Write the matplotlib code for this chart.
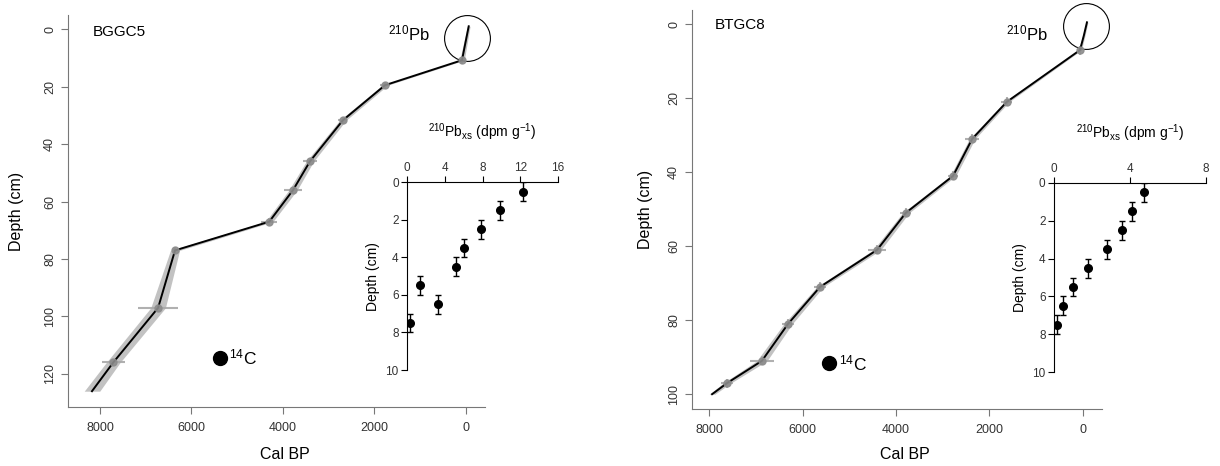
import matplotlib
matplotlib.use("Agg")
import matplotlib.pyplot as plt
import numpy as np

plt.rcParams['font.family'] = ['Liberation Sans', 'DejaVu Sans']
plt.rcParams['mathtext.fontset'] = 'custom'
plt.rcParams['mathtext.rm'] = 'Liberation Sans'
plt.rcParams['mathtext.it'] = 'Liberation Sans:italic'

# --- BGGC5 age-depth model ---
bggc5_depth = [-1, 5, 10.8, 19.5, 31.7, 46, 56, 67, 77, 97, 116, 126]
bggc5_age = [-60, 15, 87, 1770, 2690, 3410, 3780, 4300, 6360, 6730, 7710, 8175]
bggc5_band = [30, 40, 50, 60, 70, 80, 90, 80, 100, 160, 150, 170]
bggc5_xerr = [0, 0, 80, 120, 100, 150, 200, 180, 60, 440, 250, 0]
bggc5_c14 = (5370, 114.4)

# --- BTGC8 age-depth model ---
btgc8_depth = [-0.5, 3, 7, 21, 31, 41, 51, 61, 71, 81, 91, 97, 100]
btgc8_age = [-85, -20, 64, 1630, 2370, 2780, 3790, 4405, 5625, 6310, 6870, 7615, 7935]
btgc8_band = [20, 25, 30, 50, 60, 60, 70, 80, 70, 90, 110, 80, 60]
btgc8_xerr = [0, 0, 40, 120, 150, 100, 120, 200, 120, 120, 250, 130, 0]
btgc8_c14 = (5430, 91.6)

# --- 210Pb excess profiles (insets) ---
pb_depth = [0.5, 1.5, 2.5, 3.5, 4.5, 5.5, 6.5, 7.5]
pb_bggc5 = [12.3, 9.8, 7.85, 6.05, 5.2, 1.4, 3.3, 0.3]
pb_btgc8 = [4.74, 4.1, 3.58, 2.8, 1.8, 1.0, 0.47, 0.16]
pb_depth_err = [0.5] * 8

GREY = '#777777'
TICK_TXT = '#333333'


def draw_core(fig, rect, name, ages, depths, band, xerr, c14, xlim, ylim,
              yticks, name_pos, pb_pos, circle_pos, ylab_xy, xlab_xy):
    ax = fig.add_axes(rect)
    ages = np.array(ages, dtype=float)
    depths = np.array(depths, dtype=float)
    band = np.array(band, dtype=float)

    # uncertainty envelope
    ax.fill_betweenx(depths, ages - band, ages + band, color='#9a9a9a', alpha=0.6, lw=0)
    # dated levels (grey crosses)
    ax.errorbar(ages[2:-1], depths[2:-1], xerr=np.array(xerr)[2:-1], yerr=1.2,
                fmt='o', ms=5, color='#8c8c8c', ecolor='#a8a8a8', elinewidth=1.5,
                capsize=0, alpha=0.9)
    ax.plot(ages, depths, color='black', lw=1.4)

    # 14C symbol
    ax.plot([c14[0]], [c14[1]], 'o', color='black', ms=10)
    ax.text(c14[0] - 200, c14[1], r'$^{14}$C', fontsize=12.5, va='center', ha='left')

    ax.text(name_pos[0], name_pos[1], name, fontsize=11, va='center', ha='left')
    ax.text(pb_pos[0], pb_pos[1], r'$^{210}$Pb', fontsize=12, va='center', ha='left')
    ax.plot([circle_pos[0]], [circle_pos[1]], 'o', ms=33, mfc='none', mec='black',
            mew=0.8, clip_on=False)

    ax.set_xlim(*xlim)
    ax.set_ylim(*ylim)
    ax.set_xticks([8000, 6000, 4000, 2000, 0])
    ax.set_yticks(yticks)
    for lbl in ax.get_yticklabels():
        lbl.set_rotation(90)
        lbl.set_va('center')
    ax.tick_params(colors=GREY, labelcolor=TICK_TXT, labelsize=9, length=5, width=0.8)
    ax.tick_params(axis='x', pad=6)
    for s in ['top', 'right']:
        ax.spines[s].set_visible(False)
    for s in ['left', 'bottom']:
        ax.spines[s].set_color(GREY)
    ax.set_xlabel('Cal BP', fontsize=11.5)
    ax.set_ylabel('Depth (cm)', fontsize=11.5)
    # label positions in axes fraction
    ax.xaxis.set_label_coords(*xlab_xy)
    ax.yaxis.set_label_coords(*ylab_xy)
    return ax


def draw_inset(fig, rect, values, xmax, xticks):
    ax = fig.add_axes(rect)
    ax.errorbar(values, pb_depth, yerr=pb_depth_err, fmt='o', color='black',
                ms=5.5, elinewidth=1, capsize=2, capthick=1)
    ax.set_xlim(0, xmax)
    ax.set_ylim(10, 0)
    ax.set_xticks(xticks)
    ax.set_yticks([0, 2, 4, 6, 8, 10])
    ax.xaxis.tick_top()
    ax.tick_params(labelsize=8.5, length=4, width=0.8, colors='black', labelcolor=TICK_TXT, pad=2)
    for s in ['bottom', 'right']:
        ax.spines[s].set_visible(False)
    ax.patch.set_alpha(0)
    ax.set_ylabel('Depth (cm)', fontsize=10, labelpad=4)
    ax.set_title(r'$^{210}$Pb$_{\mathrm{xs}}$ (dpm g$^{-1}$)', fontsize=10, pad=18)
    return ax


fig = plt.figure(figsize=(12.2, 4.66), dpi=100)

draw_core(fig, [0.0557, 0.1266, 0.3418, 0.841], 'BGGC5',
          bggc5_age, bggc5_depth, bggc5_band, bggc5_xerr, bggc5_c14,
          (8700, -415), (131.5, -4.9), [0, 20, 40, 60, 80, 100, 120],
          (8150, 1), (1700, 1.5), (-20, 3), (-0.105, 0.5), (0.52, -0.102))
draw_inset(fig, [0.3336, 0.206, 0.1238, 0.403], pb_bggc5, 16, [0, 4, 8, 12, 16])

draw_core(fig, [0.5672, 0.1223, 0.336, 0.856], 'BTGC8',
          btgc8_age, btgc8_depth, btgc8_band, btgc8_xerr, btgc8_c14,
          (8365, -405), (104, -3.8), [0, 20, 40, 60, 80, 100],
          (7870, 0.3), (1640, 2.4), (-60, 0.5), (-0.095, 0.5), (0.52, -0.095))
draw_inset(fig, [0.8639, 0.2017, 0.1246, 0.4056], pb_btgc8, 8, [0, 4, 8])

fig.savefig('out.png', dpi=100)
